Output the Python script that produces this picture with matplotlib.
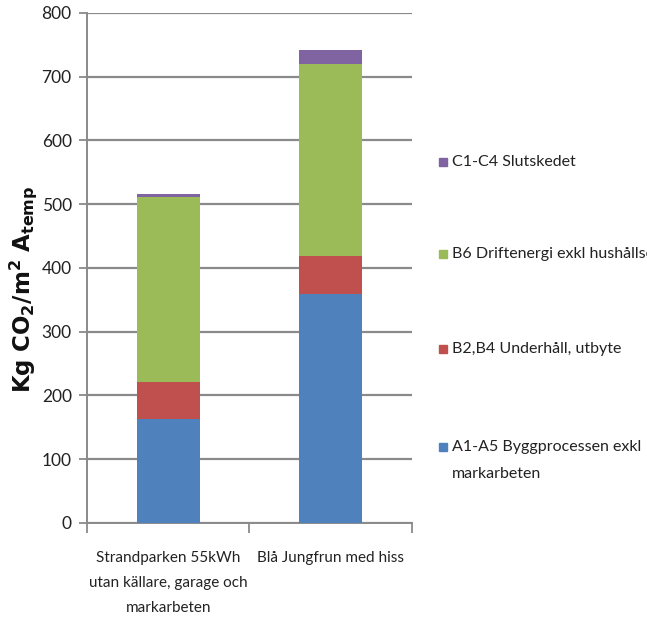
import matplotlib
matplotlib.use("Agg")
import matplotlib.pyplot as plt
from matplotlib.patches import Rectangle

# Building variants and life-cycle stage contributions (kg CO2 / m2 Atemp)
categories = ["Strandparken 55kWh\nutan källare, garage och\nmarkarbeten",
              "Blå Jungfrun med hiss"]
stages = ["A1-A5 Byggprocessen exkl\nmarkarbeten",
          "B2,B4 Underhåll, utbyte",
          "B6 Driftenergi exkl hushållsel",
          "C1-C4 Slutskedet"]
a1_a5 = [163, 359]
b2_b4 = [58, 59]
b6 = [290, 302]
c1_c4 = [5, 22]
y_ticks = [0, 100, 200, 300, 400, 500, 600, 700, 800]

colors = ["#4F81BD", "#C0504D", "#9BBB59", "#8064A2"]
series = [a1_a5, b2_b4, b6, c1_c4]

plt.rcParams["font.family"] = ["Lato", "DejaVu Sans"]

fig = plt.figure(figsize=(6.47, 6.36), dpi=100)
ax = fig.add_axes([0.1345, 0.1777, 0.502, 0.802])

x = list(range(len(categories)))
bottom = [0] * len(categories)
for vals, col in zip(series, colors):
    ax.bar(x, vals, width=0.39, bottom=bottom, color=col, zorder=3)
    bottom = [b + v for b, v in zip(bottom, vals)]

ax.set_xlim(-0.5, len(categories) - 0.5)
ax.set_ylim(0, 800)
ax.set_yticks(y_ticks)
ax.set_yticklabels([str(t) for t in y_ticks], fontsize=12.5, color="#222222")
ax.yaxis.grid(True, color="#8a8a8a", linewidth=1.6, zorder=0)
ax.set_axisbelow(True)

# category boundaries carry the x tick marks, labels sit under the bars
ax.set_xticks([i - 0.5 for i in range(len(categories) + 1)])
ax.set_xticklabels([])
ax.set_xticks(x, minor=True)
ax.set_xticklabels(categories, minor=True, fontsize=11, color="#222222",
                   linespacing=2.0, va="top")
ax.tick_params(axis="x", which="minor", length=0, pad=20)
ax.tick_params(axis="x", which="major", length=7, width=1.3, color="#8a8a8a")
ax.tick_params(axis="y", length=6, width=1.3, color="#8a8a8a", pad=5)

for side in ("top", "right"):
    ax.spines[side].set_visible(False)
for side in ("left", "bottom"):
    ax.spines[side].set_color("#8a8a8a")
    ax.spines[side].set_linewidth(1.4)

fig.text(0.036, 0.545, r"$\mathbf{Kg\ CO_2/m^2\ A_{temp}}$", rotation=90,
         fontsize=16.5, ha="center", va="center", color="#111111",
         family="DejaVu Sans")

# legend, top entry first
legend_rows = [(3, 162), (2, 254), (1, 349), (0, 447)]
for idx, ypix in legend_rows:
    yf = 1 - ypix / 636
    fig.add_artist(Rectangle((439 / 647, yf - 4 / 636), 7.5 / 647, 8 / 636,
                             transform=fig.transFigure, color=colors[idx]))
    lines = stages[idx].split("\n")
    fig.text(452 / 647, yf, lines[0], fontsize=11.5,
             va="center", ha="left", color="#222222")
    if len(lines) > 1:
        fig.text(452 / 647, yf - 27 / 636, lines[1], fontsize=11.5,
                 va="center", ha="left", color="#222222")

fig.savefig("out.png", dpi=100, facecolor="white")
